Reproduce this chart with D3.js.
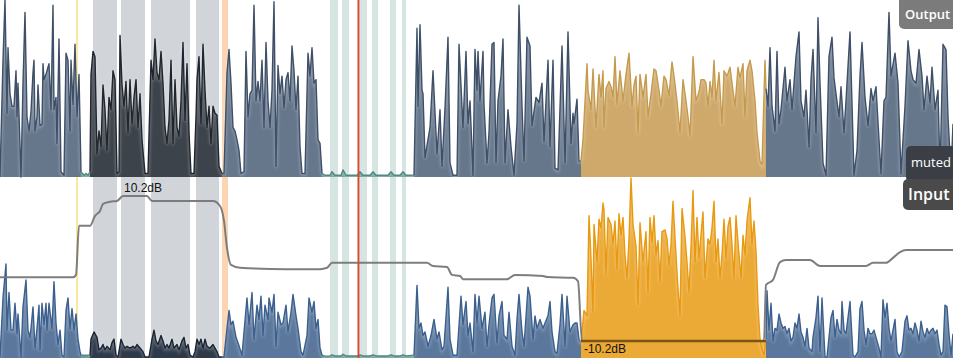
<!DOCTYPE html>
<html><head><meta charset="utf-8">
<script src="https://cdn.jsdelivr.net/npm/d3@7"></script>
<style>html,body{margin:0;padding:0;background:#fff;overflow:hidden}</style>
</head><body><svg id="c" width="953" height="358"></svg>
<script>
// ---- data (time in frames, levels in % of full scale, gain in dB) ----
const duration = 953;
const outputWave = [[0,0],[3,66],[5,100],[7,36],[8,73],[10,47],[12,40],[14,40],[16,60],[17,34],[18,53],[21,0],[23,53],[25,93],[27,34],[29,26],[31,37],[33,59],[34,66],[35,26],[37,34],[38,52],[40,29],[42,30],[43,64],[44,55],[46,58],[48,62],[49,64],[51,38],[53,97],[54,38],[56,45],[57,19],[59,78],[61,3],[64,1],[66,70],[68,66],[70,26],[71,66],[73,41],[75,75],[77,34],[79,58],[81,3],[84,1],[86,2],[88,1],[90,3],[91,58],[93,71],[95,68],[97,13],[99,26],[101,17],[103,52],[105,38],[107,15],[109,45],[111,38],[113,60],[115,55],[117,2],[119,3],[120,80],[122,52],[124,40],[126,54],[128,25],[130,55],[132,30],[134,45],[136,55],[138,28],[140,47],[142,21],[145,2],[148,2],[151,66],[153,55],[155,78],[157,59],[159,55],[161,71],[163,53],[165,28],[167,19],[169,32],[171,66],[173,19],[175,55],[177,28],[179,23],[181,43],[183,76],[185,32],[187,64],[189,25],[191,2],[194,2],[196,34],[197,55],[199,68],[201,30],[203,75],[205,49],[207,28],[209,40],[211,19],[213,40],[215,36],[217,35],[219,6],[222,2],[224,2],[227,59],[229,72],[231,53],[233,28],[235,26],[237,21],[239,15],[241,2],[244,3],[246,71],[248,34],[250,47],[252,49],[254,97],[256,43],[258,54],[260,43],[262,66],[264,28],[266,76],[268,43],[270,28],[272,49],[274,99],[276,6],[278,63],[280,47],[282,57],[284,39],[286,55],[288,59],[290,43],[292,74],[294,60],[296,38],[298,57],[300,17],[302,2],[305,2],[308,70],[310,57],[312,73],[314,53],[316,55],[318,21],[320,19],[322,2],[325,1],[330,1],[332,3],[335,1],[341,1],[343,4],[346,1],[357,1],[360,3],[363,1],[370,1],[373,3],[376,1],[388,1],[391,3],[394,1],[400,1],[403,3],[406,1],[414,1],[417,84],[418,40],[420,86],[422,49],[423,47],[425,11],[430,28],[433,60],[437,13],[440,38],[442,6],[445,39],[448,79],[450,8],[453,1],[457,1],[459,75],[463,28],[466,71],[468,30],[470,43],[473,1],[475,72],[477,49],[478,71],[480,43],[483,71],[484,41],[487,8],[489,25],[492,75],[494,76],[496,8],[498,43],[501,57],[503,78],[505,8],[508,38],[511,17],[514,1],[517,30],[519,97],[522,40],[524,9],[527,79],[530,74],[532,29],[536,45],[539,42],[542,53],[544,20],[548,66],[550,17],[553,66],[555,5],[558,4],[562,74],[565,8],[568,82],[571,19],[573,36],[574,30],[577,44],[579,9],[581,9],[583,21],[587,64],[588,49],[591,38],[593,61],[596,28],[599,58],[601,45],[603,60],[604,28],[606,50],[609,54],[611,51],[613,45],[615,68],[617,41],[620,60],[623,43],[626,58],[629,70],[632,40],[634,52],[636,57],[638,25],[640,58],[643,45],[646,58],[648,34],[651,47],[654,61],[656,60],[659,49],[661,40],[664,57],[666,55],[669,46],[672,65],[674,57],[677,43],[680,25],[683,55],[686,43],[688,34],[690,23],[693,68],[696,43],[699,48],[701,55],[704,55],[706,53],[708,40],[710,54],[712,45],[714,66],[716,43],[719,59],[722,30],[724,60],[727,57],[730,62],[732,53],[735,40],[738,62],[740,56],[743,64],[745,34],[747,60],[750,66],[752,60],[755,43],[757,25],[760,9],[762,7],[765,66],[766,50],[768,40],[770,73],[772,40],[775,26],[777,71],[779,30],[781,38],[785,62],[787,43],[790,55],[792,38],[796,68],[799,82],[801,43],[804,34],[806,49],[809,17],[811,55],[813,72],[816,25],[818,90],[820,53],[823,8],[826,1],[829,68],[832,79],[834,56],[836,47],[839,34],[841,51],[844,25],[846,43],[850,82],[854,1],[857,15],[860,57],[862,76],[865,45],[868,29],[871,50],[873,43],[876,51],[879,21],[881,2],[884,43],[886,45],[889,93],[891,57],[895,70],[898,53],[901,2],[905,40],[908,77],[911,60],[913,55],[916,53],[919,72],[922,57],[924,38],[927,57],[930,42],[932,62],[935,38],[938,49],[940,2],[943,75],[946,72],[948,34],[951,2],[953,30]];

const inputWave = [[0,0],[3,33],[6,52],[7,15],[9,36],[11,15],[13,15],[15,30],[17,13],[18,24],[21,0],[23,28],[26,43],[28,15],[30,11],[31,16],[33,28],[35,5],[37,16],[39,29],[40,4],[42,30],[44,18],[46,30],[47,15],[49,30],[52,16],[54,42],[56,19],[58,7],[60,15],[62,1],[64,0],[66,26],[68,33],[70,16],[72,27],[74,15],[76,24],[78,10],[80,3],[81,1],[84,1],[88,1],[90,1],[91,10],[94,14],[97,11],[99,4],[101,5],[103,7],[105,4],[107,6],[110,4],[112,8],[114,10],[116,1],[118,0],[121,10],[123,7],[125,5],[127,6],[130,5],[133,6],[135,5],[137,7],[140,5],[143,3],[145,0],[149,0],[152,10],[154,15],[156,9],[158,7],[161,12],[163,9],[165,5],[167,7],[169,5],[172,10],[174,5],[177,7],[179,4],[182,9],[184,11],[186,5],[188,7],[190,1],[193,0],[195,3],[197,10],[199,7],[201,10],[203,5],[205,10],[207,6],[210,5],[213,7],[215,5],[217,3],[219,0],[222,0],[224,0],[227,16],[229,26],[231,18],[233,20],[236,11],[238,8],[242,1],[247,33],[249,18],[252,36],[254,10],[257,29],[259,21],[261,34],[263,12],[265,29],[268,21],[269,33],[272,25],[274,35],[276,6],[278,25],[281,18],[283,19],[286,29],[288,14],[291,25],[293,35],[296,23],[298,16],[301,3],[303,1],[307,12],[309,33],[312,25],[314,31],[316,16],[318,21],[320,5],[322,1],[325,0.5],[330,0.6],[332,1.2],[335,0.6],[341,0.6],[343,1.5],[346,0.6],[357,0.6],[360,1.2],[363,0.6],[370,0.6],[373,1.2],[376,0.6],[388,0.6],[391,1.2],[394,0.6],[400,0.6],[403,1.2],[406,0.6],[414,1],[417,40],[419,16],[421,19],[423,12],[425,14],[428,6],[431,12],[434,21],[437,10],[439,14],[442,4],[444,6],[448,39],[450,10],[453,1],[457,1],[461,34],[463,18],[466,31],[468,12],[470,19],[473,3],[475,35],[477,19],[479,34],[482,16],[485,25],[487,6],[489,18],[492,33],[494,35],[497,8],[499,23],[502,31],[504,12],[507,10],[509,25],[512,6],[515,1],[517,21],[519,35],[522,14],[524,6],[528,39],[530,34],[533,10],[535,23],[537,16],[540,21],[543,16],[545,19],[548,23],[550,31],[552,14],[555,3],[557,2],[560,18],[562,35],[565,6],[567,34],[570,14],[573,18],[575,19],[577,19],[579,10],[581,8],[584,26],[587,23],[589,79],[591,55],[593,25],[594,74],[597,53],[599,77],[601,72],[603,86],[604,82],[606,46],[608,78],[611,74],[613,63],[615,76],[617,49],[619,80],[621,68],[623,78],[625,57],[627,44],[629,66],[631,100],[633,74],[636,62],[638,29],[640,75],[643,53],[646,70],[648,36],[650,78],[652,64],[654,79],[656,57],[658,65],[660,42],[662,70],[665,71],[667,66],[669,51],[671,63],[673,87],[676,57],[678,38],[680,23],[682,83],[685,67],[687,53],[689,36],[691,61],[693,93],[695,53],[697,78],[699,55],[701,68],[703,81],[705,44],[708,66],[710,63],[712,72],[714,87],[716,53],[718,66],[720,44],[722,57],[724,77],[726,55],[728,73],[730,78],[732,63],[734,44],[736,79],[738,64],[741,44],[743,68],[745,57],[747,76],[750,89],[752,63],[754,76],[756,59],[758,29],[760,10],[762,4],[764,1],[766,10],[767,37],[769,15],[771,30],[773,9],[775,16],[777,15],[779,24],[781,19],[783,16],[785,17],[787,13],[789,16],[791,9],[793,11],[795,19],[797,16],[799,24],[801,14],[803,11],[805,6],[807,16],[809,5],[812,3],[813,11],[816,22],[818,34],[820,3],[822,33],[825,0],[827,0],[831,22],[833,26],[835,11],[837,21],[839,15],[841,13],[842,31],[844,15],[846,13],[848,22],[850,31],[853,1],[855,0],[858,3],[860,27],[862,31],[864,15],[866,7],[868,16],[870,13],[872,13],[874,15],[877,9],[879,5],[881,0],[883,32],[885,22],[887,30],[889,16],[891,9],[893,15],[895,21],[897,3],[899,0],[902,3],[905,20],[907,23],[909,15],[911,16],[913,13],[915,19],[917,15],[919,9],[921,20],[923,14],[925,11],[927,16],[929,13],[931,15],[933,16],[935,13],[937,15],[939,7],[941,1],[943,3],[945,29],[947,28],[949,13],[951,1],[953,13]];

const gainTimes = [0,73,76,79,90,95,100,103,110,117,123,147,152,213,220,224,227,231,240,287,320,327,332,427,433,447,452,460,463,507,515,543,547,573,578,582,764,766,773,780,786,810,820,866,873,886,893,900,906,953];
const gainDb    = [-1.24,-1.24,-0.9,6.0,6.0,7.4,8.1,9.1,9.4,9.5,10.2,10.2,9.5,9.5,8.8,6.7,2.9,0.5,0.1,-0.1,-0.1,0.1,0.8,0.8,0.35,0.2,-0.9,-1.05,-1.5,-1.5,-0.9,-1.05,-1.2,-1.3,-1.8,-10.2,-10.2,-2.3,-1.6,0.9,1.2,1.2,0.35,0.35,0.8,0.8,1.5,2.3,2.6,2.6];
const gainMax = 10.2, gainMaxAt = 124;
const gainMin = -10.2, gainMinRange = [581, 766];

const segStart = [0, 81, 90, 222, 322, 414, 581, 766];
const segEnd   = [81, 90, 222, 322, 414, 581, 766, 953];
const segKind  = ["normal","muted","selected","normal","muted","normal","loud","normal"];

const selectedBands = [[93,117],[121,145],[151,190],[196,219]];
const mutedBands = [[330,338],[342,349],[360,367],[372,378],[390,396],[402,406]];
const clipBand = [222, 228];
const markerAt = 77;
const cursorAt = 358.5;
const panelLabels = ["Output", "Input"];
const mutedLabel = "muted";

// ---- styles ----
const W = 953, H = 358;
const outTop = 0, outBase = 177, inTop = 178, inBase = 357;
const colors = {
  out: {normal:["#66778c","#3e4f67"], muted:["#6c9b93","#4f8981"], selected:["#3d434b","#20262d"], loud:["#cfa96b","#c59a4c"]},
  inp: {normal:["#5b789c","#3b5f8e"], muted:["#6c9b93","#4f8981"], selected:["#2e3a4a","#1b2432"], loud:["#eba935","#e8990f"]}
};

const svg = d3.select("#c");
const x = d3.scaleLinear().domain([0, duration]).range([0, W]);
const yOut = d3.scaleLinear().domain([0, 100]).range([outBase, outTop]);
const yIn = d3.scaleLinear().domain([0, 100]).range([inBase, inTop]).clamp(true);
const yGain = d3.scaleLinear().domain([gainMin, gainMax]).range([341, 196]);

const defs = svg.append("defs");
defs.append("filter").attr("id","glow").attr("x","-5%").attr("y","-5%").attr("width","110%").attr("height","110%")
  .append("feGaussianBlur").attr("stdDeviation", 1.5);

// background bands
const bg = svg.append("g");
bg.selectAll(".sel").data(selectedBands).join("rect")
  .attr("x", d => x(d[0])).attr("width", d => x(d[1]) - x(d[0]))
  .attr("y", 0).attr("height", H).attr("fill", "#d1d4d9");
bg.selectAll(".mut").data(mutedBands).join("rect")
  .attr("x", d => x(d[0])).attr("width", d => x(d[1]) - x(d[0]))
  .attr("y", 0).attr("height", H).attr("fill", "#d6e4e2");
bg.append("rect").attr("x", x(clipBand[0])).attr("width", x(clipBand[1]) - x(clipBand[0]))
  .attr("y", 0).attr("height", H).attr("fill", "#fcd4b0");
bg.append("rect").attr("x", x(markerAt) - 1).attr("width", 2).attr("y", 0).attr("height", H).attr("fill", "#f8e79c");

// min-gain region box in input panel
svg.append("rect").attr("x", x(gainMinRange[0])).attr("width", x(gainMinRange[1]) - x(gainMinRange[0]))
  .attr("y", yGain(gainMin)).attr("height", H - yGain(gainMin)).attr("fill", colors.inp.loud[0]);

function drawWave(data, y, pal, base) {
  const g = svg.append("g");
  segStart.forEach((s, i) => {
    const e = segEnd[i];
    const pts = data.filter(d => d[0] >= s && d[0] <= e);
    const [fill, stroke] = pal[segKind[i]];
    const area = d3.area().x(d => x(d[0])).y0(base).y1(d => y(d[1]));
    const line = d3.line().x(d => x(d[0])).y(d => y(d[1]));
    g.append("path").attr("d", area(pts)).attr("fill", fill);
    g.append("path").attr("d", line(pts)).attr("fill", "none").attr("stroke", "#fff")
      .attr("stroke-width", 2.5).attr("opacity", 0.3).attr("filter", "url(#glow)").attr("transform", "translate(0,1)");
    g.append("path").attr("d", line(pts)).attr("fill", "none").attr("stroke", stroke)
      .attr("stroke-width", 1.4).attr("stroke-linejoin", "round");
  });
}
drawWave(outputWave, yOut, colors.out, outBase);
drawWave(inputWave, yIn, colors.inp, H);

// gain curve
const gainPts = gainTimes.map((t, i) => [t, gainDb[i]]);
svg.append("path")
  .attr("d", d3.line().x(d => x(d[0])).y(d => yGain(d[1])).curve(d3.curveMonotoneX)(gainPts))
  .attr("fill", "none").attr("stroke", "#777").attr("stroke-width", 2).attr("opacity", 0.95);

// min line
svg.append("line").attr("x1", x(gainMinRange[0])).attr("x2", x(gainMinRange[1]))
  .attr("y1", yGain(gainMin)).attr("y2", yGain(gainMin)).attr("stroke", "#7a5517").attr("stroke-width", 2.5);

const font = "'Liberation Sans', Arial, sans-serif";
svg.append("text").attr("x", x(gainMaxAt)).attr("y", yGain(gainMax) - 4)
  .attr("font-family", font).attr("font-size", 12).attr("fill", "#111").text(gainMax.toFixed(1) + "dB");
svg.append("text").attr("x", x(gainMinRange[0]) + 3).attr("y", yGain(gainMin) + 12)
  .attr("font-family", font).attr("font-size", 12).attr("fill", "#111").text(gainMin.toFixed(1) + "dB");

// cursor
svg.append("rect").attr("x", x(cursorAt) - 1).attr("width", 2).attr("y", 0).attr("height", H).attr("fill", "#d64a31");

// labels
const lf = "'Open Sans', 'Noto Sans', sans-serif";
svg.append("rect").attr("x", 899).attr("y", -6).attr("width", 60).attr("height", 35).attr("rx", 5).attr("fill", "#7b7b7b");
svg.append("text").attr("x", 905).attr("y", 19).attr("font-family", lf).attr("font-weight", 600)
  .attr("font-size", 13).attr("fill", "#fff").text(panelLabels[0]);
svg.append("rect").attr("x", 906).attr("y", 146).attr("width", 60).attr("height", 36).attr("rx", 5).attr("fill", "#3b3f45");
svg.append("text").attr("x", 911).attr("y", 167).attr("font-family", lf)
  .attr("font-size", 13).attr("fill", "#fff").text(mutedLabel);
svg.append("rect").attr("x", 903).attr("y", 179).attr("width", 60).attr("height", 31).attr("rx", 5).attr("fill", "#4a4a4a");
svg.append("text").attr("x", 908).attr("y", 200).attr("font-family", lf).attr("font-weight", 600)
  .attr("font-size", 16).attr("fill", "#fff").text(panelLabels[1]);
</script></body></html>
